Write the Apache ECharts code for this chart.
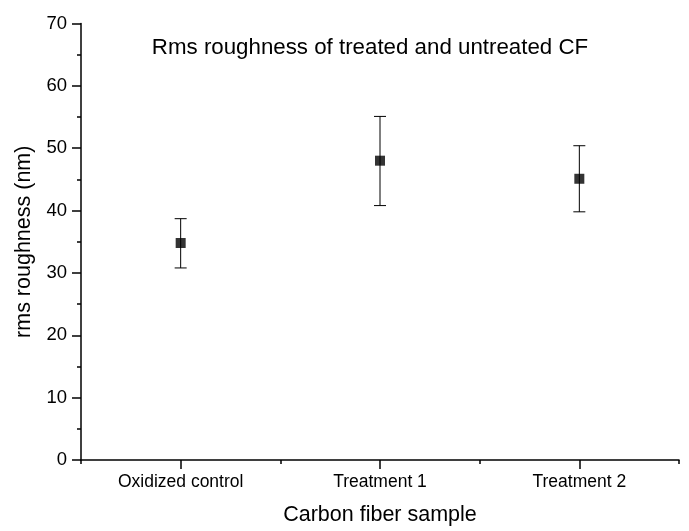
<!DOCTYPE html>
<html>
<head>
<meta charset="utf-8">
<script src="https://cdn.jsdelivr.net/npm/echarts@6/dist/echarts.min.js"></script>
<style>html,body{margin:0;padding:0;background:#fff}#c{width:689px;height:531px}</style>
</head>
<body>
<div id="c"></div>
<script>
var categories = ['Oxidized control', 'Treatment 1', 'Treatment 2'];
var meanValues = [34.8, 48.0, 45.1];
var lowerValues = [30.8, 40.8, 39.8];
var upperValues = [38.7, 55.1, 50.4];
var yTicks = [0, 10, 20, 30, 40, 50, 60, 70];

var chart = echarts.init(document.getElementById('c'), null, {renderer: 'canvas'});
var FONT = 'Liberation Sans, Arial, sans-serif';
var errData = categories.map(function (c, i) { return [i, lowerValues[i], upperValues[i]]; });

chart.setOption({
  animation: false,
  backgroundColor: '#fff',
  title: {
    text: 'Rms roughness of treated and untreated CF',
    left: 365, textAlign: 'center', top: 32,
    textStyle: {fontFamily: FONT, fontSize: 22.3, fontWeight: 'normal', color: '#000'}
  },
  grid: {left: 81, right: 10, top: 23.5, bottom: 70, containLabel: false},
  xAxis: [{
    type: 'category', data: categories, boundaryGap: true, position: 'bottom',
    name: 'Carbon fiber sample', nameLocation: 'middle', nameGap: 44,
    nameTextStyle: {fontFamily: FONT, fontSize: 21.5, color: '#000'},
    axisLine: {show: true, lineStyle: {color: '#000', width: 1.5}},
    axisTick: {show: true, alignWithLabel: true, length: 9, inside: false, lineStyle: {color: '#000', width: 1.5}},
    axisLabel: {fontFamily: FONT, fontSize: 17.5, color: '#000', margin: 13},
    splitLine: {show: false}
  }, {
    type: 'category', data: categories, boundaryGap: true, position: 'bottom', offset: 0,
    axisLine: {show: false},
    axisTick: {show: true, alignWithLabel: false, length: 4, inside: false, lineStyle: {color: '#000', width: 1.5}},
    axisLabel: {show: false},
    splitLine: {show: false}
  }],
  yAxis: {
    type: 'value', min: yTicks[0], max: yTicks[yTicks.length - 1], interval: 10,
    name: 'rms roughness (nm)', nameLocation: 'middle', nameGap: 40, nameRotate: 90,
    nameTextStyle: {fontFamily: FONT, fontSize: 21.5, color: '#000'},
    axisLine: {show: true, lineStyle: {color: '#000', width: 1.5}},
    axisTick: {show: true, length: 9, inside: false, lineStyle: {color: '#000', width: 1.5}},
    minorTick: {show: true, splitNumber: 2, length: 4, lineStyle: {color: '#000', width: 1.5}},
    axisLabel: {fontFamily: FONT, fontSize: 18.5, color: '#000', margin: 14},
    splitLine: {show: false}
  },
  series: [{
    type: 'custom',
    data: errData,
    z: 2,
    renderItem: function (params, api) {
      var x = api.value(0);
      var lo = api.coord([x, api.value(1)]);
      var hi = api.coord([x, api.value(2)]);
      var hw = 6;
      var st = {stroke: '#000', lineWidth: 1};
      return {
        type: 'group',
        children: [
          {type: 'line', shape: {x1: lo[0], y1: lo[1], x2: hi[0], y2: hi[1]}, style: st},
          {type: 'line', shape: {x1: lo[0] - hw, y1: lo[1], x2: lo[0] + hw, y2: lo[1]}, style: st},
          {type: 'line', shape: {x1: hi[0] - hw, y1: hi[1], x2: hi[0] + hw, y2: hi[1]}, style: st}
        ]
      };
    }
  }, {
    type: 'scatter',
    data: meanValues,
    symbol: 'rect',
    symbolSize: 10,
    z: 3,
    itemStyle: {color: '#000'}
  }]
});
</script>
</body>
</html>
